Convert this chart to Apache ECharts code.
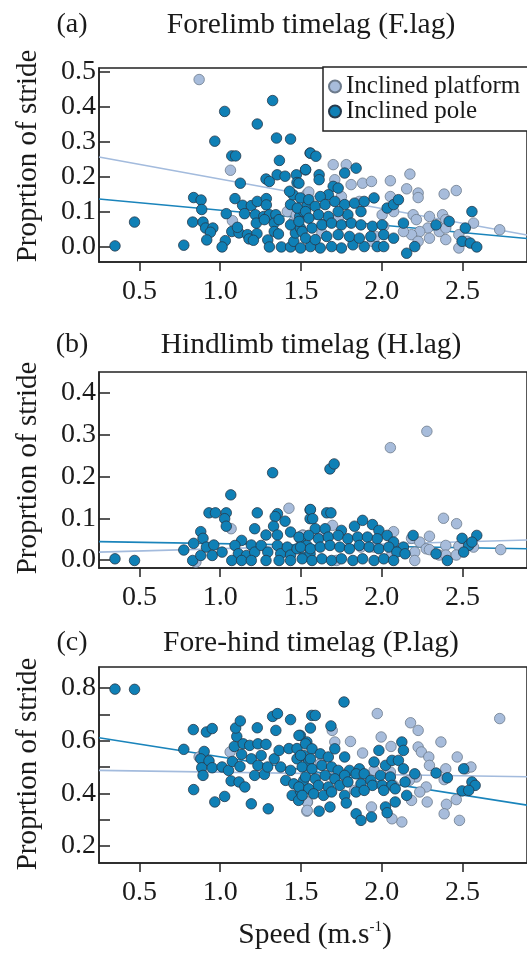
<!DOCTYPE html>
<html>
<head>
<meta charset="utf-8">
<script src="https://cdn.jsdelivr.net/npm/echarts@6/dist/echarts.min.js"></script>
<style>html,body{margin:0;padding:0;background:#fff;}#c{width:527px;height:954px;}</style>
</head>
<body>
<div id="c"></div>
<script>
// ---------- DATA ----------
const seriesNames = ['Inclined platform', 'Inclined pole'];
const panelTitles = ['Forelimb timelag (F.lag)', 'Hindlimb timelag (H.lag)', 'Fore-hind timelag (P.lag)'];
const panelLetters = ['(a)', '(b)', '(c)'];
const yAxisTitle = 'Proprtion of stride';
const xTickValues = [0.5, 1.0, 1.5, 2.0, 2.5];
const yTicksA = [0.0, 0.1, 0.2, 0.3, 0.4, 0.5];
const yTicksB = [0.0, 0.1, 0.2, 0.3, 0.4];
const yTicksC = [0.2, 0.3, 0.4, 0.5, 0.6, 0.7, 0.8];
const yLabelsC = [0.2, 0.4, 0.6, 0.8];

const platformA = [[0.87,0.478],[1.064,0.219],[1.076,0.075],[1.416,0.101],[1.456,0.073],[1.537,0.151],[1.507,0.119],[1.472,0.092],[1.7,0.235],[1.781,0.235],[1.71,0.192],[1.811,0.178],[1.882,0.182],[1.937,0.187],[2.054,0.189],[2.175,0.208],[2.155,0.166],[2.226,0.154],[2.226,0.141],[2.387,0.151],[2.462,0.161],[1.549,0.157],[1.751,0.144],[1.862,0.13],[2.054,0.144],[2.074,0.101],[2.003,0.092],[2.195,0.092],[2.215,0.078],[2.296,0.087],[2.377,0.092],[2.397,0.078],[2.569,0.068],[2.731,0.049],[2.286,0.054],[2.357,0.044],[2.397,0.054],[2.236,0.044],[2.185,0.035],[2.296,0.025],[2.397,0.021],[2.478,0.035],[2.529,0.016],[2.478,-0.003],[2.226,0.016],[2.135,0.044],[1.63,0.04],[1.943,0.016],[1.963,0.03],[1.731,0.082],[2.013,0.059]];
const poleA = [[1.325,0.418],[1.028,0.387],[1.23,0.351],[0.967,0.302],[1.349,0.311],[1.436,0.308],[1.072,0.26],[1.096,0.26],[1.367,0.247],[1.557,0.268],[1.284,0.194],[1.305,0.187],[1.353,0.206],[1.402,0.202],[1.472,0.206],[1.529,0.22],[1.125,0.182],[1.476,0.184],[0.836,0.141],[0.882,0.134],[0.886,0.107],[0.47,0.071],[0.349,0.003],[0.775,0.005],[0.83,0.071],[0.894,0.071],[0.91,0.054],[0.955,0.054],[0.94,0.042],[0.917,0.02],[1.038,0.095],[1.092,0.138],[1.139,0.119],[1.193,0.118],[1.23,0.13],[1.286,0.138],[1.286,0.12],[1.151,0.095],[1.218,0.092],[1.27,0.087],[1.305,0.092],[1.345,0.092],[1.072,0.044],[1.117,0.04],[1.169,0.035],[1.228,0.038],[1.179,0.023],[1.206,0.019],[1.032,0.018],[1.012,0.0],[1.107,0.056],[1.224,0.068],[1.274,0.078],[1.335,0.068],[1.365,0.078],[1.335,0.044],[1.361,0.037],[1.295,0.02],[1.305,0.0],[1.379,0.0],[1.436,0.0],[1.456,0.016],[1.466,0.04],[1.436,0.063],[1.497,0.054],[1.493,0.087],[1.517,0.101],[1.537,0.116],[1.436,0.121],[1.452,0.149],[1.43,0.159],[1.497,0.14],
  [1.559,0.268],[1.593,0.259],[1.529,0.221],[1.613,0.206],[1.613,0.192],[1.771,0.211],[1.842,0.225],[1.7,0.173],[1.731,0.168],[1.67,0.149],[1.62,0.144],[1.549,0.135],[1.488,0.182],[1.478,0.111],[1.529,0.101],[1.589,0.116],[1.65,0.121],[1.71,0.13],[1.771,0.121],[1.832,0.125],[1.892,0.13],[1.953,0.14],[1.872,0.101],[1.791,0.092],[1.731,0.101],[1.67,0.087],[1.609,0.092],[1.549,0.082],[1.488,0.073],[1.508,0.044],[1.569,0.054],[1.63,0.063],[1.69,0.068],[1.751,0.063],[1.812,0.068],[1.872,0.063],[1.943,0.059],[2.003,0.063],[2.034,0.111],[2.074,0.121],[2.104,0.135],[2.135,0.068],[2.013,0.035],[2.074,0.025],[2.155,-0.018],[2.205,0.001],[1.973,0.001],[1.892,0.001],[1.822,0.006],[1.751,-0.003],[1.69,0.001],[1.62,-0.003],[1.559,0.001],[1.498,-0.003],[1.529,0.025],[1.589,0.021],[1.66,0.03],[1.731,0.035],[1.801,0.03],[1.862,0.025],[1.933,0.03],[2.337,0.063],[2.418,0.073],[2.559,0.101],[2.518,0.054],[2.498,0.016],[2.549,0.011],[2.589,0.0],[2.013,0.001]];

const platformB = [[1.068,0.075],[1.426,0.124],[1.513,0.06],[0.85,-0.005],[2.28,0.308],[2.054,0.269],[2.383,0.1],[2.464,0.087],[1.696,0.083],[1.508,0.059],[1.62,0.059],[2.074,0.068],[2.296,0.057],[2.185,0.052],[2.236,0.043],[1.953,0.031],[2.397,0.035],[2.478,0.033],[2.276,0.027],[2.205,0.019],[2.357,0.012],[2.397,0.012],[2.462,0.012],[2.296,0.025],[2.205,-0.001],[2.737,0.025],[2.064,0.015],[1.721,-0.001],[1.872,0.031],[2.569,0.031]];
const poleB = [[0.349,0.003],[0.47,-0.001],[0.775,0.024],[0.836,0.04],[0.88,0.068],[0.894,0.052],[0.83,-0.001],[0.88,0.011],[0.915,0.031],[0.961,0.036],[0.951,0.011],[1.012,0.019],[0.931,0.113],[0.971,0.113],[1.038,0.113],[1.028,0.099],[1.038,0.081],[1.066,0.156],[1.325,0.209],[1.23,0.113],[1.355,0.111],[1.341,0.104],[1.402,0.093],[1.557,0.12],[1.557,0.099],[1.214,0.075],[1.331,0.081],[1.284,0.06],[1.355,0.06],[1.436,0.067],[1.497,0.051],[1.133,0.047],[1.193,0.036],[1.092,0.035],[1.113,0.015],[1.163,0.011],[1.214,0.019],[1.254,0.035],[1.295,0.019],[1.284,-0.001],[1.072,-0.001],[1.133,-0.001],[1.193,-0.001],[1.355,0.035],[1.375,0.015],[1.416,0.031],[1.436,0.012],[1.365,-0.001],[1.436,-0.001],[1.476,0.027],[1.537,0.035],[1.517,0.007],[1.557,0.015],
  [1.68,0.218],[1.706,0.23],[1.559,0.121],[1.573,0.099],[1.66,0.113],[1.686,0.113],[1.589,0.075],[1.65,0.075],[1.751,0.071],[1.832,0.081],[1.882,0.095],[1.943,0.085],[1.983,0.071],[2.034,0.059],[1.488,0.055],[1.549,0.059],[1.609,0.051],[1.67,0.055],[1.731,0.059],[1.791,0.051],[1.852,0.055],[1.912,0.055],[1.973,0.051],[2.074,0.043],[2.135,0.031],[2.195,0.059],[1.498,0.031],[1.559,0.027],[1.62,0.031],[1.68,0.035],[1.741,0.031],[1.801,0.027],[1.862,0.035],[1.923,0.031],[1.983,0.027],[2.044,0.031],[2.094,0.019],[1.508,0.003],[1.569,-0.001],[1.63,0.003],[1.69,-0.001],[1.751,0.003],[1.822,-0.001],[1.882,0.003],[1.953,-0.001],[2.013,0.003],[2.074,-0.001],[2.145,0.015],[2.337,0.015],[2.407,-0.001],[2.498,0.052],[2.589,0.059],[2.539,0.035],[2.508,0.019],[2.559,0.043]];

const platformC = [[1.062,0.557],[0.87,0.538],[1.541,0.367],[1.537,0.332],[1.973,0.703],[2.179,0.668],[2.226,0.639],[2.731,0.684],[1.694,0.639],[1.807,0.597],[1.997,0.614],[1.882,0.553],[2.058,0.578],[2.226,0.576],[2.246,0.557],[2.292,0.538],[2.367,0.595],[2.468,0.538],[2.296,0.506],[2.397,0.493],[2.523,0.493],[2.553,0.5],[2.387,0.452],[2.215,0.462],[2.171,0.449],[2.276,0.424],[2.236,0.405],[2.074,0.43],[1.953,0.487],[1.62,0.512],[1.832,0.411],[1.902,0.462],[2.185,0.373],[2.282,0.367],[2.401,0.358],[2.387,0.322],[2.462,0.376],[2.482,0.297],[2.125,0.291],[2.064,0.303],[1.937,0.348],[1.539,0.367],[1.539,0.335],[1.71,0.595],[2.054,0.481]];
const poleC = [[0.349,0.796],[0.47,0.795],[0.775,0.567],[0.834,0.642],[0.915,0.633],[0.951,0.646],[0.901,0.559],[0.88,0.531],[0.931,0.523],[0.886,0.497],[0.894,0.468],[0.951,0.497],[1.012,0.5],[1.052,0.487],[0.836,0.414],[0.967,0.367],[1.028,0.388],[1.068,0.447],[1.117,0.443],[1.153,0.424],[1.076,0.521],[1.123,0.502],[1.088,0.578],[1.103,0.616],[1.096,0.648],[1.125,0.675],[1.143,0.588],[1.183,0.582],[1.234,0.588],[1.23,0.649],[1.133,0.548],[1.193,0.531],[1.254,0.544],[1.284,0.586],[1.345,0.639],[1.325,0.692],[1.355,0.703],[1.436,0.68],[1.214,0.468],[1.274,0.472],[1.234,0.506],[1.294,0.5],[1.335,0.531],[1.365,0.563],[1.426,0.57],[1.476,0.57],[1.497,0.62],[1.537,0.595],[1.375,0.5],[1.436,0.487],[1.476,0.531],[1.517,0.544],[1.547,0.519],[1.406,0.449],[1.456,0.436],[1.517,0.449],[1.446,0.392],[1.486,0.373],[1.497,0.408],[1.193,0.36],[1.298,0.341],[1.567,0.696],
  [1.767,0.747],[1.589,0.696],[1.559,0.648],[1.686,0.656],[1.488,0.62],[1.529,0.588],[1.569,0.569],[1.498,0.544],[1.559,0.531],[1.62,0.55],[1.67,0.538],[1.71,0.569],[1.771,0.538],[1.508,0.5],[1.569,0.493],[1.63,0.506],[1.69,0.5],[1.731,0.487],[1.801,0.487],[1.862,0.493],[1.529,0.462],[1.589,0.455],[1.65,0.468],[1.71,0.455],[1.771,0.468],[1.842,0.474],[1.892,0.474],[1.953,0.519],[1.983,0.563],[2.024,0.506],[2.064,0.525],[2.104,0.525],[2.125,0.595],[2.135,0.563],[2.135,0.493],[1.488,0.424],[1.549,0.417],[1.609,0.43],[1.67,0.424],[1.741,0.43],[1.791,0.443],[1.872,0.436],[1.933,0.449],[1.993,0.468],[2.054,0.462],[1.943,0.43],[2.003,0.43],[2.064,0.43],[2.145,0.443],[2.205,0.474],[1.508,0.392],[1.579,0.398],[1.64,0.392],[1.69,0.405],[1.771,0.392],[1.842,0.405],[1.892,0.411],[2.013,0.411],[2.084,0.417],[2.155,0.392],[1.613,0.332],[1.68,0.348],[1.781,0.363],[1.842,0.322],[1.872,0.297],[1.937,0.31],[2.024,0.348],[2.034,0.326],[2.084,0.367],[2.337,0.477],[2.407,0.459],[2.508,0.493],[2.559,0.443],[2.579,0.43],[2.498,0.409],[2.539,0.411]];

// fitted regression lines (end points)
const fitPlatformA = [[0.25,0.257],[2.9,0.034]];
const fitPoleA = [[0.25,0.137],[2.9,0.024]];
const fitPlatformB = [[0.25,0.019],[2.9,0.048]];
const fitPoleB = [[0.25,0.044],[2.9,0.027]];
const fitPlatformC = [[0.25,0.487],[2.9,0.463]];
const fitPoleC = [[0.25,0.611],[2.9,0.355]];

// ---------- STYLE / LAYOUT ----------
const FONT = 'Liberation Serif';
const C_PLAT = '#a7bcdb', C_PLAT_B = '#6d7b8c';
const C_POLE = '#0f80b6', C_POLE_B = '#27394a';
const L_PLAT = '#a3bbdd', L_POLE = '#1a84bb';

const panels = [
  {top: 68,  height: 194, ymin: -0.043, ymax: 0.511, ticks: yTicksA, labels: yTicksA, plat: platformA, pole: poleA, fp: fitPlatformA, fo: fitPoleA, titleY: 25, nameY: 156},
  {top: 372, height: 196, ymin: -0.019, ymax: 0.450, ticks: yTicksB, labels: yTicksB, plat: platformB, pole: poleB, fp: fitPlatformB, fo: fitPoleB, titleY: 345, nameY: 468},
  {top: 667, height: 196, ymin: 0.135,  ymax: 0.880, ticks: yTicksC, labels: yLabelsC, plat: platformC, pole: poleC, fp: fitPlatformC, fo: fitPoleC, titleY: 643, nameY: 764}
];

const grids = [], xAxes = [], yAxes = [], series = [], graphics = [];
panels.forEach((p, i) => {
  grids.push({left: 99, top: p.top, width: 437, height: p.height, show: true, borderColor: '#222', borderWidth: 1.5, backgroundColor: 'transparent', containLabel: false});
  xAxes.push({type: 'value', gridIndex: i, min: 0.25, max: 2.9,
    axisLine: {show: true, onZero: false, lineStyle: {color: '#222', width: 1.5}},
    axisTick: {show: true, customValues: xTickValues, length: 9, lineStyle: {color: '#222', width: 1.5}},
    axisLabel: {customValues: xTickValues, formatter: v => v.toFixed(1), fontFamily: FONT, fontSize: 28, color: '#1a1a1a', margin: 16},
    splitLine: {show: false}});
  yAxes.push({type: 'value', gridIndex: i, min: p.ymin, max: p.ymax,
    axisLine: {show: true, onZero: false, lineStyle: {color: '#222', width: 1.5}},
    axisTick: {show: true, inside: true, customValues: p.ticks, length: 11, lineStyle: {color: '#222', width: 1.5}},
    axisLabel: {customValues: p.labels, formatter: v => v.toFixed(1), fontFamily: FONT, fontSize: 28, color: '#1a1a1a', margin: 3},
    splitLine: {show: false}});
  series.push({type: 'line', xAxisIndex: i, yAxisIndex: i, data: p.fp, symbol: 'none', silent: true, z: 1, lineStyle: {color: L_PLAT, width: 1.6}});
  series.push({type: 'line', xAxisIndex: i, yAxisIndex: i, data: p.fo, symbol: 'none', silent: true, z: 1, lineStyle: {color: L_POLE, width: 1.6}});
  series.push({type: 'scatter', name: seriesNames[0], xAxisIndex: i, yAxisIndex: i, data: p.plat, symbolSize: 10.5, z: 2,
    itemStyle: {color: C_PLAT, borderColor: C_PLAT_B, borderWidth: 0.8, opacity: 1}});
  series.push({type: 'scatter', name: seriesNames[1], xAxisIndex: i, yAxisIndex: i, data: p.pole, symbolSize: 10.5, z: 3,
    itemStyle: {color: C_POLE, borderColor: C_POLE_B, borderWidth: 0.8, opacity: 1}});
  graphics.push({type: 'text', x: 72, y: p.titleY, style: {text: panelLetters[i], font: '28px "' + FONT + '"', fill: '#1a1a1a', align: 'center', verticalAlign: 'middle', textAlign: 'center', textVerticalAlign: 'middle'}});
  graphics.push({type: 'text', x: 311, y: p.titleY, style: {text: panelTitles[i], font: '29.5px "' + FONT + '"', fill: '#1a1a1a', align: 'center', verticalAlign: 'middle', textAlign: 'center', textVerticalAlign: 'middle'}});
  graphics.push({type: 'text', x: 28, y: p.nameY, rotation: Math.PI / 2, style: {text: yAxisTitle, font: '29px "' + FONT + '"', fill: '#1a1a1a', align: 'center', verticalAlign: 'middle', textAlign: 'center', textVerticalAlign: 'middle'}});
});
graphics.push({type: 'text', x: 315, y: 935, style: {
  text: '{a|Speed (m.s}{b|-1}{a|)}', align: 'center', verticalAlign: 'middle', textAlign: 'center', textVerticalAlign: 'middle',
  rich: {a: {fontFamily: FONT, fontSize: 29.5, fill: '#1a1a1a', color: '#1a1a1a'}, b: {fontFamily: FONT, fontSize: 15, fill: '#1a1a1a', color: '#1a1a1a', verticalAlign: 'top', padding: [0, 0, 11, 0]}}
}});

const chart = echarts.init(document.getElementById('c'), null, {renderer: 'canvas'});
chart.setOption({
  animation: false,
  backgroundColor: '#fff',
  grid: grids, xAxis: xAxes, yAxis: yAxes, series: series,
  legend: {data: seriesNames, orient: 'vertical', left: 323, top: 67, icon: 'circle', itemWidth: 12, itemHeight: 12, itemGap: 0,
    padding: [7, 40, 7, 5], borderColor: '#222', borderWidth: 1.5, backgroundColor: '#fff', selectedMode: false,
    textStyle: {fontFamily: FONT, fontSize: 25, color: '#1a1a1a', lineHeight: 21}},
  graphic: graphics
});
</script>
</body>
</html>
